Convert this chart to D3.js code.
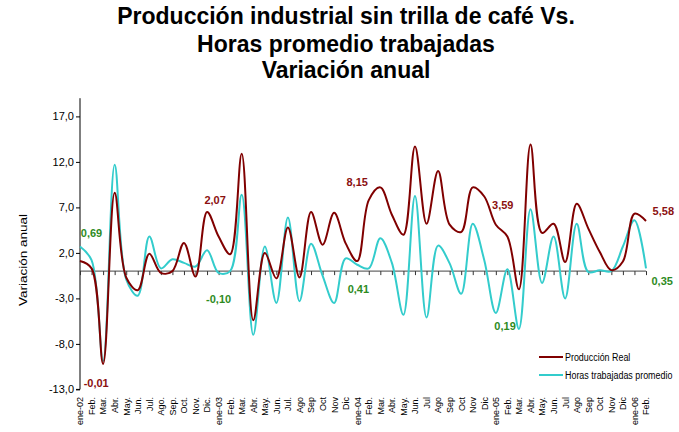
<!DOCTYPE html>
<html>
<head>
<meta charset="utf-8">
<script src="https://cdn.jsdelivr.net/npm/d3@7"></script>
<style>
  html, body { margin: 0; padding: 0; background: #fff; }
  text { font-family: "Liberation Sans", Arial, sans-serif; }
</style>
</head>
<body>
<svg id="chart" width="679" height="432"></svg>
<script>
const titleLines = ["Producción industrial sin trilla de café Vs.", "Horas promedio trabajadas", "Variación anual"];
const months = ["ene-02","Feb.","Mar.","Abr.","May.","Jun.","Jul.","Ago.","Sep.","Oct.","Nov.","Dic.",
  "ene-03","Feb.","Mar.","Abr.","May.","Jun.","Jul.","Ago","Sep","Oct","Nov","Dic",
  "ene-04","Feb.","Mar.","Abr.","May.","Jun.","Jul","Ago","Sep","Oct","Nov","Dic",
  "ene-05","Feb.","Mar.","Abr.","May.","Jun.","Jul","Ago","Sep","Oct","Nov","Dic",
  "ene-06","Feb."];
const produccion = [1.1, 0.3, -10.2, 8.6, -0.7, -2.1, 1.9, -0.2, 0.0, 3.1,
  -0.6, 6.5, 3.8, 1.85, 12.9, -5.4, 2.0, -0.8, 4.8, -0.7,
  6.5, 2.9, 6.4, 3.05, 1.1, 7.8, 9.2, 6.2, 4.0, 13.7,
  5.2, 11.0, 5.1, 4.3, 9.2, 8.2, 5.1, 3.8, -2.0, 13.9,
  4.2, 5.2, 1.0, 7.4, 4.7, 2.1, 0.1, 1.05, 6.3, 5.5];
const horas = [2.7, 1.2, -9.9, 11.7, -0.9, -2.7, 3.8, 0.3, 1.3, 0.9,
  0.5, 2.3, -0.2, 0.0, 8.4, -7.0, 2.7, -3.5, 5.9, -3.3,
  3.0, -0.5, -3.5, 1.4, 0.7, 0.3, 3.6, 0.9, -4.8, 8.25,
  -5.1, 2.8, 0.85, -2.5, 5.2, 1.2, -4.6, 0.2, -6.35, 6.8,
  -1.3, 3.8, -3.0, 5.2, -0.1, 0.1, 0.0, 2.7, 5.6, 0.3];
const yTicks = [-13, -8, -3, 2, 7, 12, 17];
const seriesNames = ["Producción Real", "Horas trabajadas promedio"];
// annotations: label, category index, value position, series
const annotLabels = ["0,69", "-0,01", "2,07", "-0,10", "8,15", "0,41", "3,59", "0,19", "5,58", "0,35"];
const annotIndex  = [1, 1.4, 11.7, 12, 24, 24.1, 36.6, 36.8, 50.5, 50.4];
const annotValue  = [4.2, -12.3, 7.8, -3.1, 9.8, -2.0, 7.2, -6.0, 6.6, -1.1];
const annotSeries = [1, 0, 0, 1, 0, 1, 0, 1, 0, 1];

const colors = ["#800000", "#33CCCC"];
const annotColors = ["#8B1010", "#2E8B1E"];

const svg = d3.select("#chart");
const x = d3.scaleLinear().domain([0, months.length - 1]).range([80, 646]);
const y = d3.scaleLinear().domain([-13, 19]).range([389.4, 98.2]);

// title
svg.append("g").selectAll("text").data(titleLines).join("text")
  .attr("x", 346).attr("y", (d, i) => [24, 51.5, 78][i])
  .attr("text-anchor", "middle").attr("font-size", 23).attr("font-weight", "bold")
  .attr("fill", "#000").text(d => d);

// y axis
const yAxis = d3.axisLeft(y).tickValues(yTicks).tickSize(4)
  .tickFormat(d => d3.format(".1f")(d).replace(".", ",").replace("−", "-"));
const gy = svg.append("g").attr("transform", "translate(80,0)").call(yAxis);
gy.select(".domain").attr("stroke", "#000").attr("d", `M-4,${y(-13)}H0V${y(19)}`);
gy.selectAll(".tick line").attr("stroke", "#000");
gy.selectAll(".tick text").attr("font-size", 11).attr("fill", "#000").attr("x", -6)
  .style("font-family", "'Liberation Sans', Arial, sans-serif");

// y title
svg.append("text").attr("transform", `translate(27,260) rotate(-90)`)
  .attr("text-anchor", "middle").attr("font-size", 11).attr("fill", "#000")
  .attr("textLength", 92).attr("lengthAdjust", "spacingAndGlyphs")
  .text("Variación anual");

// x axis at zero
const xAxis = d3.axisBottom(x).tickValues(d3.range(months.length)).tickSize(4).tickFormat("");
const gx = svg.append("g").attr("transform", `translate(0,${y(0)})`).call(xAxis);
gx.select(".domain").attr("stroke", "#444").attr("d", `M${x(0)},0H${x(months.length - 1)}`);
gx.selectAll(".tick line").attr("stroke", "#333");

// x labels at bottom
const labAxis = d3.axisBottom(x).tickValues(d3.range(months.length)).tickSize(0).tickFormat(i => months[i]);
const gl = svg.append("g").attr("transform", `translate(0,397)`).call(labAxis);
gl.select(".domain").remove();
gl.selectAll(".tick text")
  .attr("transform", "rotate(-90)")
  .attr("text-anchor", "end").attr("x", 0).attr("y", 0).attr("dy", "0.32em")
  .attr("font-size", 9).attr("fill", "#000")
  .style("font-family", "'Liberation Sans', Arial, sans-serif");

// lines
const line = d3.line().x((d, i) => x(i)).y(d => y(d)).curve(d3.curveCatmullRom.alpha(0.5));
svg.append("path").datum(horas).attr("fill", "none").attr("stroke", colors[1]).attr("stroke-width", 2).attr("d", line);
svg.append("path").datum(produccion).attr("fill", "none").attr("stroke", colors[0]).attr("stroke-width", 2).attr("d", line);

// annotations
svg.append("g").selectAll("text").data(annotLabels).join("text")
  .attr("x", (d, i) => x(annotIndex[i]))
  .attr("y", (d, i) => y(annotValue[i]))
  .attr("dy", "0.35em")
  .attr("text-anchor", "middle").attr("font-size", 11).attr("font-weight", "bold")
  .attr("fill", (d, i) => annotColors[annotSeries[i]])
  .text(d => d);

// legend
const lg = svg.append("g");
seriesNames.forEach((name, i) => {
  const ly = [357, 375][i];
  lg.append("line").attr("x1", 539).attr("x2", 563).attr("y1", ly).attr("y2", ly)
    .attr("stroke", colors[i]).attr("stroke-width", 2);
  lg.append("text").attr("transform", `translate(565,${ly}) scale(0.81,1)`)
    .attr("dy", "0.35em")
    .attr("font-size", 11).attr("fill", "#000")
    .text(name);
});
</script>
</body>
</html>
